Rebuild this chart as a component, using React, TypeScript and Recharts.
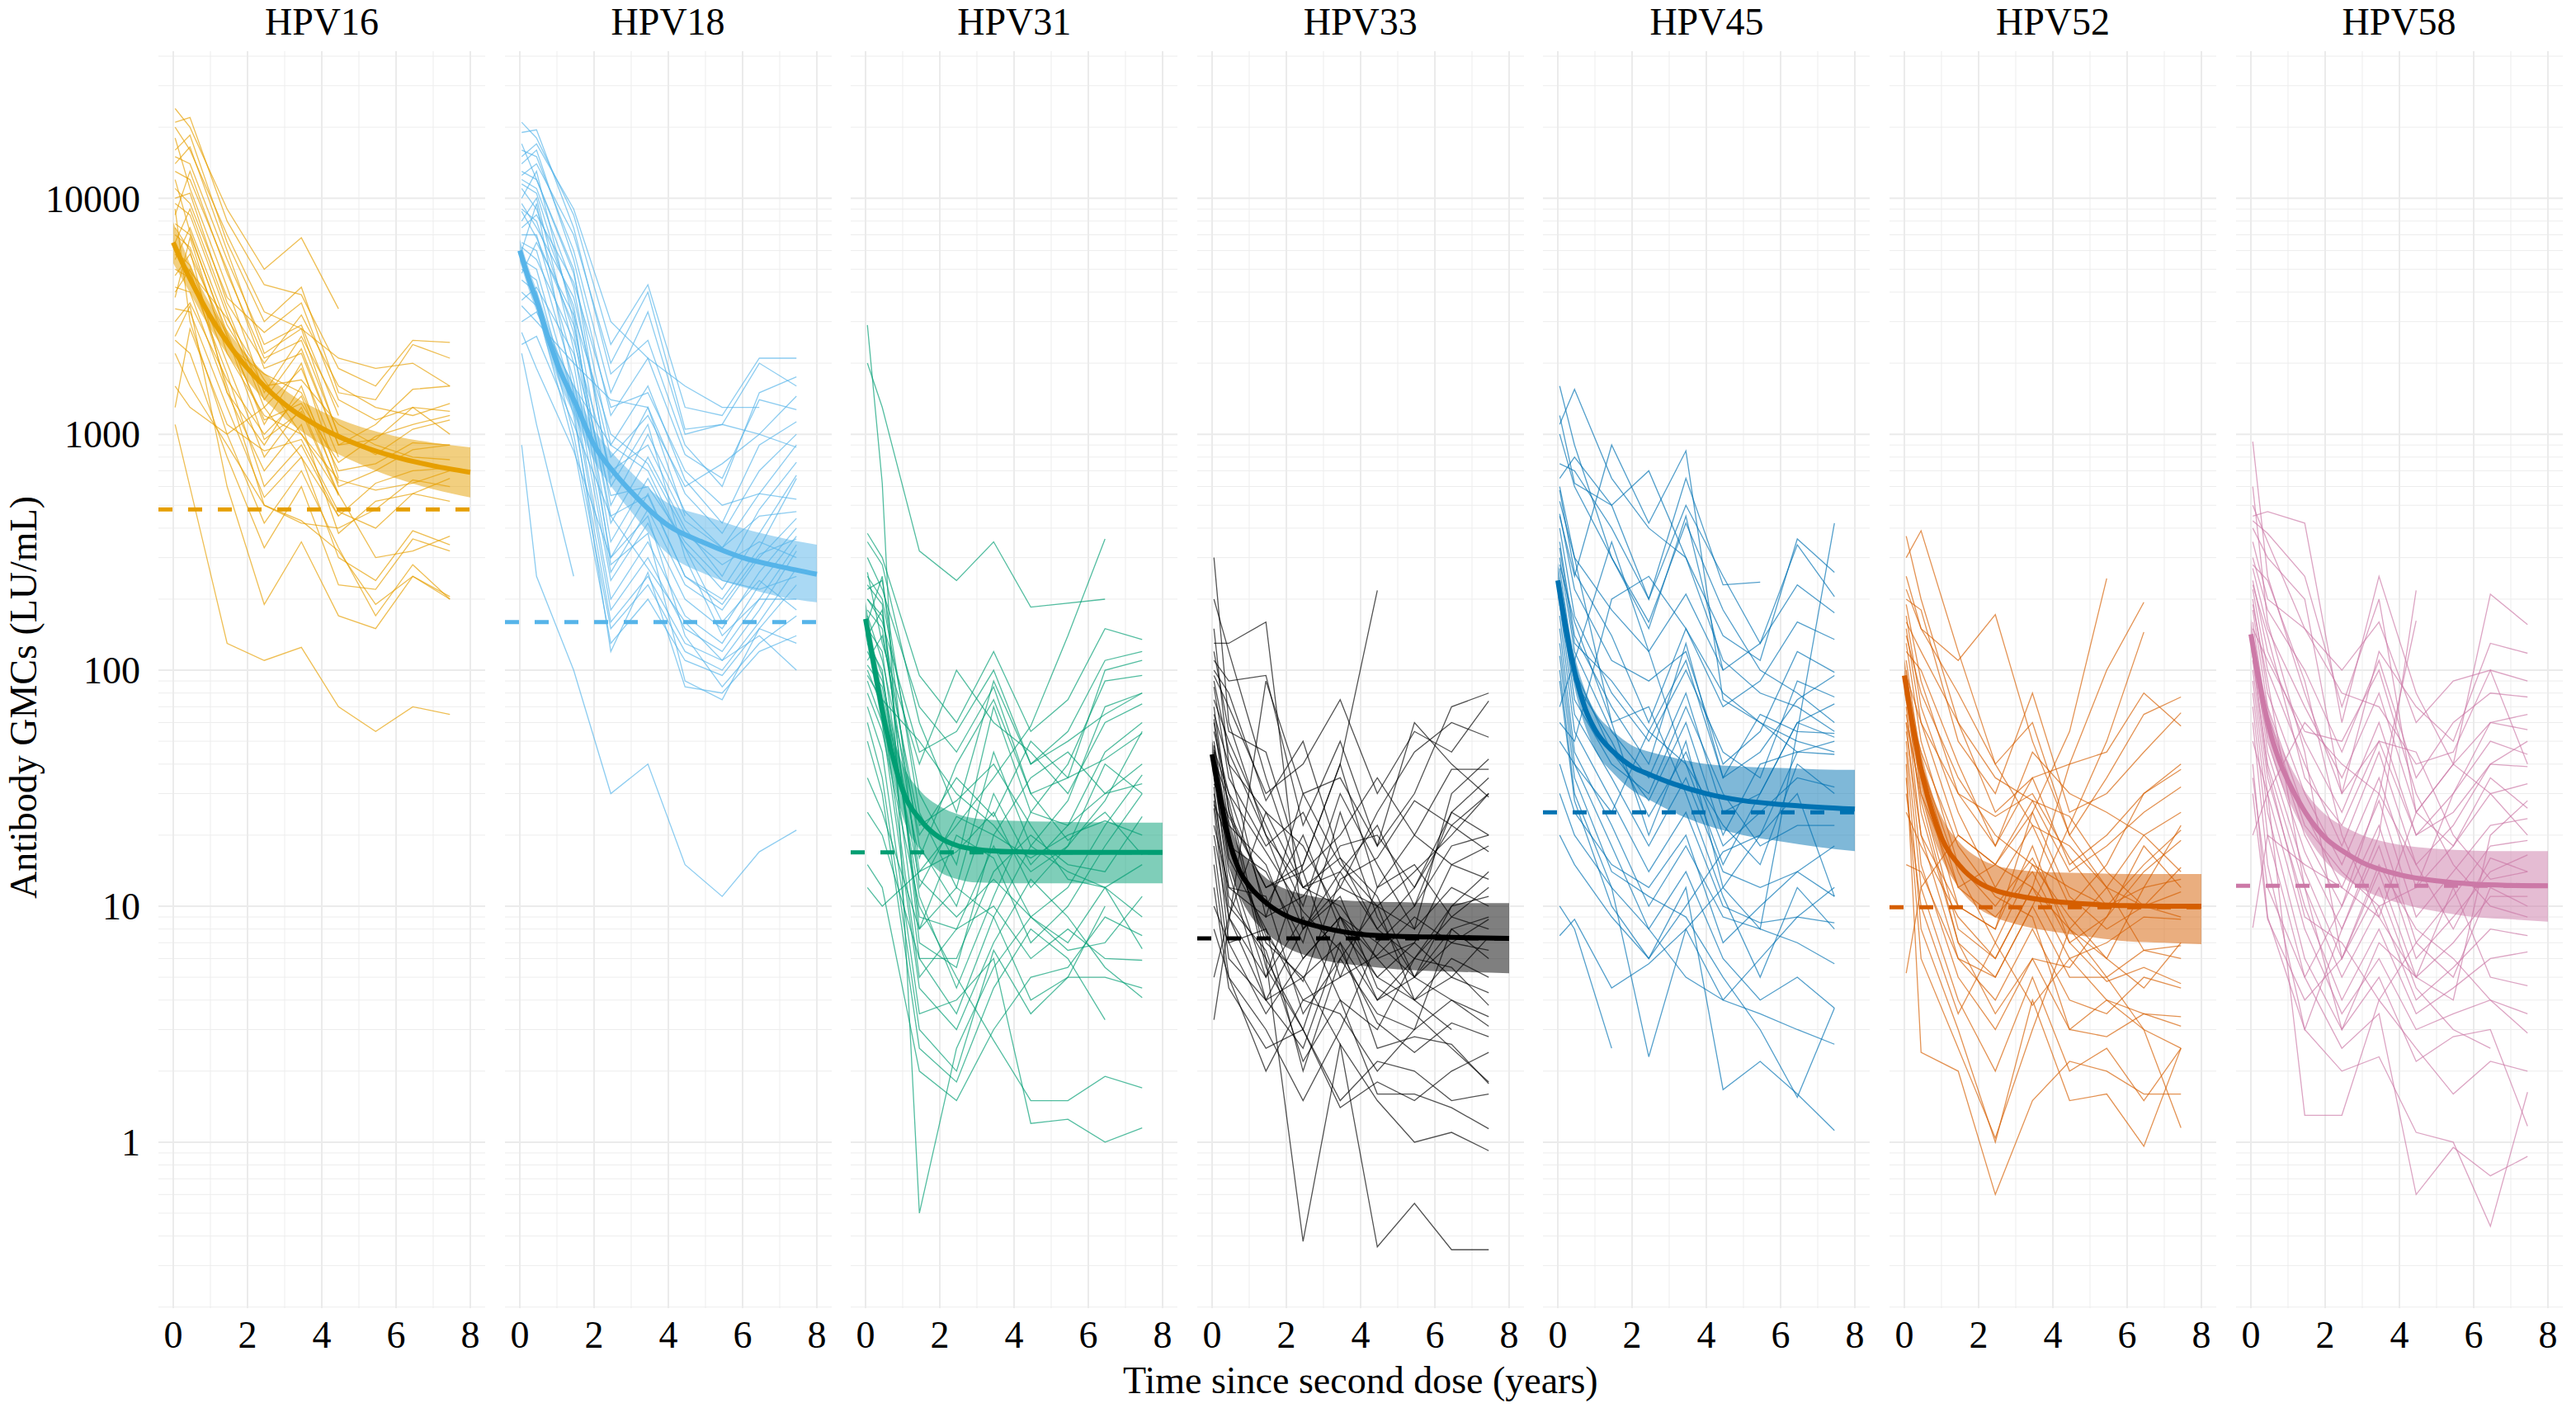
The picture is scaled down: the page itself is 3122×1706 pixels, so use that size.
import { ComposedChart, Line, Area, XAxis, YAxis, CartesianGrid, ReferenceLine } from "recharts";

const _ = null;

// visit times (years since second dose) for the individual trajectories
const VISITS = [0.05, 0.45, 1.45, 2.45, 3.45, 4.45, 5.45, 6.45, 7.45];
// grid of the fitted decay curve
const FIT_T = [0, 0.25, 0.5, 0.75, 1, 1.5, 2, 2.5, 3, 4, 5, 6, 7, 8];

const TYPES = ["HPV16", "HPV18", "HPV31", "HPV33", "HPV45", "HPV52", "HPV58"];
const COLORS = ["#E69F00", "#56B4E9", "#009E73", "#000000", "#0072B2", "#D55E00", "#CC79A7"];
const THRESHOLDS = [480, 160, 16.9, 7.3, 25, 9.9, 12.2];

const MAJOR_Y = [1, 10, 100, 1000, 10000];
const MINOR_Y = [
  0.2, 0.3, 0.4, 0.5, 0.6, 0.7, 0.8, 0.9, 2, 3, 4, 5, 6, 7, 8, 9, 20, 30, 40, 50, 60, 70, 80, 90,
  200, 300, 400, 500, 600, 700, 800, 900, 2000, 3000, 4000, 5000, 6000, 7000, 8000, 9000, 20000, 30000, 40000,
];
const X_TICKS = [0, 2, 4, 6, 8];

const HPV16_FIT = [6500, 5300, 4400, 3700, 3150, 2400, 1900, 1570, 1340, 1060, 900, 800, 735, 690];
const HPV16_LO = [5300, 4500, 3850, 3250, 2800, 2130, 1680, 1380, 1170, 900, 750, 650, 585, 540];
const HPV16_HI = [7900, 6300, 5050, 4200, 3550, 2700, 2150, 1790, 1540, 1250, 1080, 980, 920, 880];
const HPV16_SUBJECTS = [
  [24000, 20000, 9000, 5000, 6800, 3400, _, _, _],
  [21000, 22000, 8000, 4300, 3900, 1900, 1600, 2500, 2450],
  [16000, 18500, 6500, 3000, 4200, 1500, 1400, 2400, 2100],
  [15000, 14000, 5500, 2400, 2900, 1200, _, _, _],
  [13000, 12000, 5000, 1900, 2200, 900, 1100, 1550, 1600],
  [18000, 11000, 4200, 1500, 2600, 1300, _, _, _],
  [11000, 9500, 3800, 2700, 3600, 1400, 1150, 1300, 1250],
  [9500, 8500, 3200, 1300, 1900, 800, _, _, _],
  [8500, 13000, 4800, 2100, 2500, 1000, 820, 1050, 1150],
  [7800, 7000, 2700, 1100, 2000, 650, _, _, _],
  [7000, 6200, 2400, 1800, 1500, 700, 750, 920, 900],
  [6500, 9000, 3400, 1400, 2300, 900, 950, 1300, 1000],
  [6000, 5200, 2000, 800, 1300, 560, _, _, _],
  [5500, 7500, 2900, 1600, 1700, 1100, 900, 800, 780],
  [5000, 4600, 1800, 600, 900, 450, 620, 700, 720],
  [4700, 5800, 2600, 950, 1250, 550, _, _, _],
  [4200, 4000, 1500, 700, 1100, 380, 520, 560, 650],
  [3800, 6800, 2200, 1200, 1000, 640, 580, 620, 700],
  [3400, 3300, 1300, 540, 800, 300, 240, 390, 340],
  [3000, 3600, 1700, 1000, 1450, 620, _, _, _],
  [1100, _, 130, 110, 125, 70, 55, 70, 65],
  [2500, 2200, 800, 330, 600, 230, 220, 360, 320],
  [9000, 3000, 1000, 420, 700, 330, 170, 280, 200],
  [2200, 1600, 900, 500, 430, 320, 190, 250, 205],
  [1300, 2800, 1100, 850, 950, 470, 400, 560, 520],
  [12000, 7200, 2600, 1150, 1350, 760, 980, 1100, 1200],
  [20000, 16000, 7000, 3300, 2800, 2100, 1900, 2000, 1600],
  [10000, 10500, 3600, 2000, 3200, 1600, 1300, 1200, 1350],
  [4000, 5000, 1600, 500, 420, 400, 480, 640, 600],
  [7500, 6000, 1500, 900, 1600, 600, 700, 860, 900],
  [1600, 1300, 1000, 1300, 800, 450, _, _, _],
  [14000, 16500, 6000, 2200, 2800, 980, _, _, _],
  [5800, 4900, 3100, 1700, 1000, 560, 300, 320, 370],
  [2600, 3500, 600, 190, 350, 170, 150, 250, 200],
];

const HPV18_FIT = [6000, 4500, 3500, 2600, 2000, 1350, 900, 700, 570, 410, 345, 300, 275, 255];
const HPV18_LO = [5400, 4050, 3150, 2300, 1750, 1170, 770, 590, 470, 310, 255, 225, 205, 194];
const HPV18_HI = [6700, 5000, 3900, 2950, 2300, 1560, 1050, 830, 690, 510, 450, 400, 365, 340];
const HPV18_SUBJECTS = [
  [21000, 18000, 8500, 2400, 4300, 1300, 1200, 2100, 2100],
  [19000, 19500, 7500, 1800, 2500, 900, 600, 1500, 1750],
  [16000, 15000, 6000, 1500, 3300, 1000, 1100, 1000, 1450],
  [14000, 16000, 5500, 1200, 2100, 820, 650, 1400, 1270],
  [13000, 12000, 4800, 900, 1600, 640, 420, 900, 1130],
  [12000, 11000, 4200, 650, 1300, 560, 380, 700, 1000],
  [11000, 9000, 3500, 500, 1000, 470, 330, 560, 900],
  [10000, 13000, 3000, 420, 800, 400, 250, 480, 760],
  [9000, 8000, 2700, 350, 650, 330, 220, 380, 670],
  [8000, 10000, 2300, 300, 560, 250, 200, 330, 650],
  [7000, 7000, 2000, 260, 480, 230, 180, 300, 440],
  [6500, 6000, 1700, 240, 420, 200, 150, 260, 400],
  [6000, 9500, 1500, 200, 350, 170, 130, 230, 370],
  [5500, 5000, 1400, 180, 300, 150, 120, 200, 340],
  [5000, 4500, 1200, 160, 250, 130, 110, 180, 320],
  [4500, 4000, 1000, 150, 230, 120, 100, 160, 270],
  [4000, 3500, 900, 130, 200, 110, 95, 150, 230],
  [3500, 3000, 2000, 1400, 1300, 450, _, _, _],
  [3000, 3300, 1600, 900, 700, 330, 160, 240, 180],
  [2700, 1900, 850, 300, 450, 140, 85, 130, 170],
  [900, 250, 100, 30, 40, 15, 11, 17, 21],
  [2200, 1100, 250, _, _, _, _, _, _],
  [15000, 17000, 9000, 3000, 2100, 1600, 1300, 1300, _],
  [12500, 14000, 7000, 2000, 4000, 1050, 1100, 2000, 1600],
  [9500, 7500, 3800, 800, 1200, 600, 750, 1000, 880],
  [7500, 8500, 4400, 1300, 1500, 700, 500, 560, 530],
  [6200, 5500, 2500, 700, 900, 430, 330, 450, 470],
  [4800, 6500, 3200, 1000, 750, 380, 280, 350, 300],
  [3700, 4200, 2200, 550, 600, 350, 240, 220, 250],
  [17000, 12000, 5000, 600, 1100, 300, 140, 200, 200],
  [11500, 10500, 3300, 280, 380, 90, 75, 150, 130],
  [8800, 6800, 2900, 450, 270, 160, 110, 140, 100],
  [5300, 3800, 1300, 120, 260, 85, 80, 120, 140],
  [2400, 2600, 1100, 450, 550, 250, 190, 310, 360],
];

const HPV31_FIT = [165, 100, 62, 42, 31, 23, 19.5, 18, 17.4, 17, 16.9, 16.9, 16.9, 16.9];
const HPV31_LO = [140, 86, 52, 34, 24, 17, 14, 13, 12.6, 12.5, 12.5, 12.5, 12.5, 12.5];
const HPV31_HI = [195, 118, 74, 52, 40, 30.5, 26.5, 24.5, 23.5, 23, 22.8, 22.7, 22.6, 22.6];
const HPV31_SUBJECTS = [
  [2900, 620, 0.5, 2.5, 5.5, 9, 7, 12, 15],
  [2000, 1300, 320, 240, 350, 185, _, 200, _],
  [380, 300, 95, 60, 120, 55, 75, 150, 135],
  [350, 280, 60, 25, 90, 40, 55, 110, 120],
  [250, 200, 30, 15, 70, 25, 40, 90, 95],
  [220, 240, 25, 12, 45, 18, 28, 70, 80],
  [200, 170, 18, 10, 30, 15, 22, 45, 60],
  [180, 150, 14, 17, 25, 12, 18, 28, 55],
  [160, 250, 12, 24, 20, 35, 45, 30, 40],
  [150, 120, 9, 8, 18, 9, 12, 22, 36],
  [140, 180, 8, 20, 16, 7, 10, 18, 30],
  [130, 100, 6, 6, 14, 20, 15, 14, 24],
  [120, 90, 16, 40, 75, 30, 19, 25, 16.5],
  [110, 140, 22, 28, 40, 22, 13, 12, 6.6],
  [100, 70, 5, 8, 10, 6, 8, 6, 5.9],
  [90, 60, 4.5, 3, 7, 13, 9, 5.5, 4.1],
  [80, 55, 10, 5, 2.7, 1.5, 1.5, 1.9, 1.7],
  [70, 45, 3.5, 4, 6, 1.2, 1.25, 1.0, 1.15],
  [60, 35, 3, 2, 6.5, 3.5, 5, 10, _],
  [50, 30, 2.5, 1.8, 4.5, 8, 6, 3.3, _],
  [35, 25, 8, 12, 9, 4, 5, 5, 4.5],
  [25, 20, 6, 3.5, 9, 18, 14, 12, 9],
  [15, 12, 2, 1.5, 3, 5, 5.5, 9, 7.5],
  [12, 10, 14, 22, 35, 58, 140, 360, _],
  [200, 160, 45, 55, 100, 40, 50, 65, 80],
  [300, 220, 70, 45, 85, 30, 35, 100, 110],
  [260, 130, 40, 100, 60, 45, 30, 60, 72],
  [170, 110, 20, 35, 24, 50, 35, 42, 54],
  [140, 95, 11, 4.5, 11, 25, 22, 30, 33],
  [105, 85, 13, 9, 13, 9, 6.5, 7, 11],
  [95, 75, 50, 30, 22, 14, 18, 40, 30],
  [230, 190, 7, 5.5, 20, 16, 20, 23, 20],
];

const HPV33_FIT = [44, 27, 18, 14, 12.2, 10.2, 9.1, 8.5, 8.1, 7.6, 7.45, 7.4, 7.35, 7.3];
const HPV33_LO = [38, 23, 14.5, 11, 9.3, 7.6, 6.7, 6.2, 5.9, 5.6, 5.4, 5.3, 5.25, 5.2];
const HPV33_HI = [51, 32, 22, 17.5, 15.5, 13, 11.8, 11.2, 10.8, 10.5, 10.4, 10.3, 10.3, 10.3];
const HPV33_SUBJECTS = [
  [300, 60, 20, 12, 14, 8, 6, 9, 12],
  [130, 130, 160, 8, 12, 10, 14, 20, 30],
  [110, 90, 95, 22, 50, 18, 30, 70, 80],
  [95, 70, 30, 40, 75, 30, 55, 45, 74],
  [85, 35, 18, 25, 12, 25, 45, 60, 52],
  [75, 50, 22, 10, 30, 15, 8, 30, 42],
  [70, 25, 12, 15, 40, 12, 20, 38, 38],
  [65, 40, 9, 11, 18, 20, 12, 22, 30],
  [60, 22, 15, 6, 9, 7, 10, 25, 20],
  [55, 30, 10, 20, 8, 5, 7, 15, 18],
  [50, 20, 7, 5, 7, 4, 5, 10, 11],
  [48, 18, 14, 7, 25, 9, 5, 7, 8.8],
  [45, 16, 8, 4, 5, 12, 15, 9, 8],
  [42, 28, 6, 3, 9, 6, 4, 5, 4.3],
  [40, 15, 5, 9, 4, 3, 6, 5.5, 3.8],
  [38, 12, 11, 3.5, 6, 3.5, 3, 4, 3.1],
  [35, 14, 4, 2.5, 7, 2.5, 2.8, 2.6, 1.77],
  [32, 10, 6.5, 2.2, 4, 1.6, 1.6, 1.4, 1.14],
  [30, 11, 6, 0.38, 2.6, 1.5, 1, 1.1, 0.92],
  [28, 9, 4, 5, 2.6, 0.36, 0.55, 0.35, 0.35],
  [26, 7, 8, 2, 6, 10, 4, 3, _],
  [3.3, _, 90, 30, 15, 10, 8, 12, 10],
  [20, 9, 5, 15, 40, 218, _, _, _],
  [22, 12, 9, 30, 35, 18, 60, 40, 29],
  [18, 6, 4, 8, 14, 22, 10, 18, 20],
  [15, 5, 3, 1.5, 3, 7, 5, 4, 3.4],
  [12, 4.5, 2.5, 3, 1.5, 2.2, 2, 1.5, 1.6],
  [10, 7, 3.5, 6, 9, 4, 6, 10, 14],
  [8, 5, 2, 4, 3.5, 2, 3, 8, 6],
  [5, 9, 25, 12, 10, 6, 7, 5, 7.4],
  [150, 40, 25, 18, 9, 5, 4, 6, 5],
  [120, 55, 45, 14, 20, 35, 20, 15, 13],
  [100, 80, 28, 50, 16, 8, 12, 25, 35],
  [90, 45, 20, 8, 11, 4.5, 3.5, 2.5, 1.8],
  [200, 120, 35, 12, 16, 11, 5, 8, 9],
  [62, 26, 5.5, 3, 1.4, 1.8, 1.5, 2, 2.4],
  [46, 30, 17, 9.5, 6.5, 3.2, 2.4, 3.2, 2.8],
  [33, 24, 12, 14, 5, 6.2, 9, 7, 6.5],
  [27, 19, 7.5, 4.8, 13, 16, 28, 22, 17],
];

const HPV45_FIT = [240, 140, 92, 68, 56, 45, 39, 36, 33.5, 30, 28, 27, 26.3, 25.8];
const HPV45_LO = [205, 120, 78, 57, 46, 36.5, 31, 28, 25.5, 22, 20, 18.8, 17.8, 17.1];
const HPV45_HI = [285, 165, 108, 81, 67, 55, 48, 45, 43, 40, 39, 38.5, 38, 37.8];
const HPV45_SUBJECTS = [
  [1600, 900, 300, 150, 450, 100, _, _, _],
  [1100, 1550, 650, 400, 300, 110, 80, 70, 55],
  [600, 300, 60, 20, 50, 12, 8, 55, 420],
  [1200, 620, 500, 700, 300, 140, 110, 360, 260],
  [750, 700, 400, 200, 500, 250, 130, 340, 205],
  [520, 300, 180, 120, 210, 100, 130, 230, 175],
  [580, 260, 140, 60, 150, 70, 90, 160, 135],
  [460, 220, 110, 90, 120, 40, 55, 120, 98],
  [400, 170, 80, 50, 100, 45, 35, 90, 77],
  [350, 140, 70, 40, 130, 35, 65, 55, 54],
  [300, 120, 55, 35, 80, 25, 30, 60, 52],
  [270, 100, 45, 28, 60, 20, 40, 45, 44],
  [240, 90, 50, 24, 45, 18, 25, 35, 32],
  [210, 75, 40, 30, 70, 30, 18, 22, 22],
  [190, 65, 35, 18, 35, 14, 12, 14, 11],
  [170, 55, 28, 14, 25, 10, 8.5, 9, 8.5],
  [150, 45, 22, 10, 18, 9, 8, 7, 5.7],
  [130, 40, 18, 8, 14, 6, 4, 5, 3.7],
  [115, 35, 14, 11, 9, 5, 3, 1.55, 3.7],
  [100, 30, 12, 2.3, 8, 4, 3.5, 3, 2.6],
  [90, 28, 10, 6, 12, 1.67, 2.2, 1.6, 1.12],
  [10, 8, 2.5, _, _, _, _, _, _],
  [7.5, 8.8, 4.5, 5.7, 8, 12, 20, 30, 11],
  [70, 110, 350, 120, 40, 15, 30, 60, 72],
  [60, 50, 200, 250, 150, 80, 60, 50, 45],
  [50, 40, 25, 55, 110, 35, 45, 75, 95],
  [40, 25, 15, 12, 20, 7, 10, 14, 18],
  [30, 20, 12, 8, 5, 4, 6, 9, 12],
  [20, 15, 9, 6, 10, 17, 20, 45, 50],
  [450, 250, 900, 420, 850, 75, 60, 45, _],
  [1000, 600, 300, 160, 420, 180, 100, 80, 60],
  [650, 800, 500, 200, 650, 230, 236, _, _],
  [330, 130, 90, 55, 40, 22, 15, 40, 30],
  [280, 160, 60, 70, 30, 11, 5, 12, 8],
];

const HPV52_FIT = [95, 55, 35, 25, 19.5, 14.8, 12.6, 11.6, 11.1, 10.5, 10.2, 10.05, 10, 10];
const HPV52_LO = [80, 46, 29, 20.5, 16, 11.8, 9.8, 8.9, 8.4, 7.8, 7.4, 7.1, 7, 6.9];
const HPV52_HI = [112, 66, 42, 30, 24, 18.5, 16, 14.8, 14.3, 13.9, 13.8, 13.7, 13.7, 13.7];
const HPV52_SUBJECTS = [
  [370, 200, 60, 25, 35, 15, 20, 30, 40],
  [300, 390, 120, 40, 60, 20, 35, 65, 77],
  [250, 150, 110, 172, 50, 20, 12, 10, 11.5],
  [200, 180, 50, 30, 80, 25, 30, 45, 66],
  [190, 90, 30, 18, 35, 40, 45, 80, 58],
  [170, 70, 25, 12, 22, 10, 15, 30, 38],
  [150, 60, 20, 15, 28, 14, 18, 25, 32],
  [130, 50, 15, 10, 16, 8, 12, 20, 25],
  [110, 40, 12, 9, 14, 7, 9, 14, 19],
  [100, 35, 10, 8, 25, 11, 8, 10, 14.6],
  [90, 30, 8, 6, 12, 6, 7, 9, 8.8],
  [80, 25, 7, 5, 10, 5, 5, 6.5, 6.8],
  [70, 20, 6, 4, 8, 4, 3.5, 5, 4.5],
  [60, 15, 5, 3, 6, 3, 4, 3.5, 3.4],
  [50, 12, 4, 2, 5, 2, 2.5, 1.5, 2.5],
  [45, 8, 3, 1, 4, 1.5, 1.6, 0.96, 2.5],
  [40, 2.4, 2, 0.6, 1.5, 2.2, 2, 1.6, 1.6],
  [35, 6, 2.5, 1.04, 3, 8, 5, 3, 1.15],
  [30, 10, 3.5, 7, 3.8, 6, 4, 3, 2.5],
  [25, 18, 9, 6, 12, 40, 100, 194, _],
  [60, 30, 12, 15, 25, 55, 245, _, _],
  [15, 14, 6, 5, 10, 22, 50, 145, _],
  [5.2, 12, 20, 15, 12, 8, 6, 12, 22],
  [120, 100, 40, 18, 45, 30, 25, 20, 14],
  [160, 120, 60, 35, 28, 24, 14, 10, 9],
  [220, 150, 80, 40, 22, 18, 12, 6.5, 6],
  [55, 20, 10, 8, 18, 7, 4.8, 5.5, 4.7],
  [75, 45, 18, 11, 9, 3, 2.8, 3.5, 3.1],
  [140, 80, 35, 20, 15, 12, 10, 15, 21],
  [95, 60, 30, 24, 30, 16, 10, 12, 13],
  [65, 28, 7, 3.5, 6, 5.5, 9, 18, 12],
  [85, 40, 14, 7, 15, 9, 6, 4.5, 7],
];

const HPV58_FIT = [142, 85, 56, 42, 34, 24.5, 19.5, 17, 15.3, 13.6, 12.8, 12.4, 12.25, 12.2];
const HPV58_LO = [122, 73, 48, 35.5, 28.5, 20, 15.5, 13.2, 11.8, 10.3, 9.5, 9.0, 8.8, 8.6];
const HPV58_HI = [165, 99, 66, 50, 41, 30, 24.5, 21.8, 20, 18.2, 17.5, 17.2, 17.1, 17.1];
const HPV58_SUBJECTS = [
  [930, 250, 80, 30, 50, 20, 25, 40, 50],
  [450, 470, 420, 60, 250, 80, 40, 210, 156],
  [400, 300, 200, 30, 120, 70, 50, 130, 118],
  [350, 200, 150, 100, 160, 60, 90, 100, 90],
  [300, 180, 100, 45, 110, 35, 60, 80, 77],
  [270, 150, 70, 35, 80, 25, 40, 60, 56],
  [240, 120, 50, 25, 60, 20, 30, 50, 44],
  [220, 100, 40, 18, 45, 15, 22, 40, 39],
  [200, 80, 30, 15, 35, 12, 18, 30, 33],
  [180, 70, 25, 12, 28, 9, 14, 22, 23.5],
  [160, 60, 20, 10, 22, 7, 11, 18, 19],
  [140, 50, 17, 8, 18, 6, 9, 14, 16.5],
  [125, 45, 14, 6, 14, 5, 7, 11, 11],
  [110, 40, 12, 5, 10, 4, 5.5, 8, 7.5],
  [100, 35, 10, 4, 8, 3.5, 4.5, 6, 6.4],
  [90, 30, 8, 3.5, 6, 3, 3.5, 4, 2.9],
  [80, 25, 6, 3, 5, 2.2, 2.8, 3, 1.17],
  [70, 20, 5, 2.5, 3.5, 0.6, 0.95, 0.72, 0.87],
  [60, 15, 3, 2, 2.3, 1.1, 1, 0.44, 1.63],
  [50, 30, 1.3, 1.3, 4, 7, 5, 12, 10],
  [40, 9, 3, 8, 20, 218, _, _, _],
  [35, 12, 5, 10, 30, 162, _, _, _],
  [30, 8.8, 4, 6, 12, 4.5, 3, 2.5, _],
  [8.1, 20, 15, 12, 9, 25, 40, 30, 20],
  [20, 30, 60, 40, 30, 15, 8, 16, 14],
  [500, 350, 150, 80, 70, 40, 45, 100, 40],
  [430, 380, 250, 70, 200, 25, 18, 35, 26],
  [280, 240, 90, 20, 9, 5, 12, 5, 4.6],
  [600, 160, 45, 6, 15, 8, 6, 4, 3.5],
  [230, 140, 35, 22, 50, 45, 20, 13, 14],
  [190, 90, 12, 3, 7, 5, 4, 20, 28],
  [150, 110, 55, 50, 100, 30, 15, 10, 9],
  [130, 65, 22, 14, 10, 12, 30, 60, 65],
  [115, 38, 9, 7, 4, 2.5, 1.6, 2.2, 2.0],
];

const FITS = [HPV16_FIT, HPV18_FIT, HPV31_FIT, HPV33_FIT, HPV45_FIT, HPV52_FIT, HPV58_FIT];
const LOWS = [HPV16_LO, HPV18_LO, HPV31_LO, HPV33_LO, HPV45_LO, HPV52_LO, HPV58_LO];
const HIGHS = [HPV16_HI, HPV18_HI, HPV31_HI, HPV33_HI, HPV45_HI, HPV52_HI, HPV58_HI];
const SUBJECTS = [
  HPV16_SUBJECTS,
  HPV18_SUBJECTS,
  HPV31_SUBJECTS,
  HPV33_SUBJECTS,
  HPV45_SUBJECTS,
  HPV52_SUBJECTS,
  HPV58_SUBJECTS,
];

const W = 3122;
const H = 1706;
const AXIS_W = 192;
const PANEL_W = 396;
const PANEL_PITCH = 419.6;
const FONT = "'Liberation Serif', 'Times New Roman', serif";
const tickStyle = { fontSize: 46, fontFamily: FONT, fill: "#000" };

function Panel({ index }: { index: number }) {
  const first = index === 0;
  const color = COLORS[index];
  const fitData = FIT_T.map((t, i) => ({ t, fit: FITS[index][i], band: [LOWS[index][i], HIGHS[index][i]] }));
  const left = first ? 0 : AXIS_W + index * PANEL_PITCH;

  return (
    <div style={{ position: "absolute", left, top: 0 }}>
      <ComposedChart
        width={first ? AXIS_W + PANEL_W : PANEL_W}
        height={H}
        margin={{ top: 62, right: 0, bottom: 61, left: 0 }}
      >
        <CartesianGrid
          horizontalValues={MINOR_Y}
          verticalValues={[1, 3, 5, 7]}
          stroke="#EDEDED"
          strokeWidth={1}
        />
        <CartesianGrid
          horizontalValues={MAJOR_Y}
          verticalValues={X_TICKS}
          stroke="#EBEBEB"
          strokeWidth={2}
        />
        <XAxis
          type="number"
          dataKey="t"
          domain={[-0.4, 8.4]}
          ticks={X_TICKS}
          interval={0}
          allowDataOverflow
          axisLine={false}
          tickLine={false}
          tickSize={0}
          tickMargin={15}
          height={60}
          tick={tickStyle}
        />
        <YAxis
          type="number"
          scale="log"
          domain={[0.198, 42000]}
          allowDataOverflow
          ticks={MAJOR_Y}
          interval={0}
          hide={!first}
          width={AXIS_W}
          axisLine={false}
          tickLine={false}
          tickSize={0}
          tickMargin={22}
          tick={tickStyle}
          tickFormatter={(v: number) => String(v)}
        />
        <ReferenceLine y={THRESHOLDS[index]} stroke={color} strokeWidth={5} strokeDasharray="17 19" />
        {SUBJECTS[index].map((row, k) => (
          <Line
            key={k}
            data={VISITS.map((t, i) => ({ t, v: row[i] })).filter((d) => d.v != null)}
            dataKey="v"
            type="linear"
            stroke={color}
            strokeWidth={1.3}
            strokeOpacity={0.68}
            dot={false}
            activeDot={false}
            isAnimationActive={false}
          />
        ))}
        <Area
          data={fitData}
          dataKey="band"
          type="monotone"
          fill={color}
          fillOpacity={0.5}
          stroke="none"
          isAnimationActive={false}
        />
        <Line
          data={fitData}
          dataKey="fit"
          type="monotone"
          stroke={color}
          strokeWidth={6}
          dot={false}
          activeDot={false}
          isAnimationActive={false}
        />
      </ComposedChart>
    </div>
  );
}

export default function App() {
  const plotRight = AXIS_W + 6 * PANEL_PITCH + PANEL_W;
  return (
    <div style={{ position: "absolute", left: 0, top: 0, width: W, height: H, background: "#fff", overflow: "hidden" }}>
      {TYPES.map((_t, i) => (
        <Panel key={i} index={i} />
      ))}
      <svg
        width={W}
        height={H}
        style={{ position: "absolute", left: 0, top: 0, pointerEvents: "none" }}
        fontFamily={FONT}
        fontSize={46}
      >
        {TYPES.map((name, i) => (
          <text key={name} x={AXIS_W + i * PANEL_PITCH + PANEL_W / 2} y={42} textAnchor="middle" fill="#000">
            {name}
          </text>
        ))}
        <text x={44} y={845} transform="rotate(-90 44 845)" textAnchor="middle" fill="#000">
          Antibody GMCs (LU/mL)
        </text>
        <text x={(AXIS_W + plotRight) / 2} y={1688} textAnchor="middle" fill="#000">
          Time since second dose (years)
        </text>
      </svg>
    </div>
  );
}
